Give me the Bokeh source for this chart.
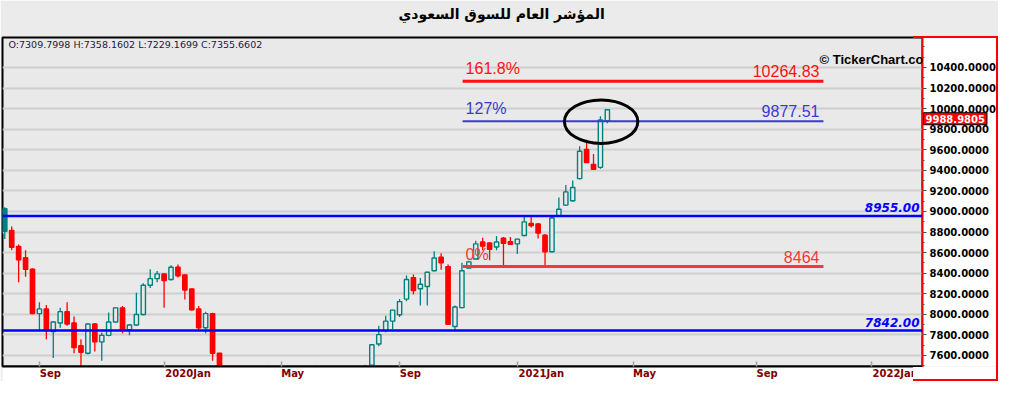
from bokeh.plotting import figure
from bokeh.models import (Range1d, FixedTicker, PrintfTickFormatter, Span, Label,
                          ColumnDataSource, InlineStyleSheet)
from bokeh.embed import file_html
from bokeh.resources import INLINE

# ---------------- data (weekly candles, index = week number) ----------------
weeks = list(range(88))
opens = [8807, 8816, 8660, 8550, 8439, 8007, 8053, 7833, 7916, 8026,
         7916, 7695, 7622, 7906, 7732, 7796, 7925, 8063, 7851, 7897,
         7998, 8283, 8347, 8393, 8338, 8458, 8384, 8246, 8053, 7870,
         8007, 7622, 7200, 6600, 6200, 6450, 6500, 6750, 6900, 6700,
         7000, 6850, 6950, 7050, 7200, 7350, 7250, 7150, 7280, 7309.7998,
         7355, 7420, 7450, 7505, 7711, 7842, 7934, 7996, 8148, 8357,
         8249, 8271, 8424, 8556, 8464, 7882, 8065, 8449, 8538, 8703,
         8694, 8654, 8740, 8706, 8685, 8767, 8883, 8878, 8770, 8608,
         8954, 9062, 9104, 9319, 9604, 9457, 9429, 9880]
highs = [9040, 8853, 8678, 8623, 8448, 8118, 8090, 7935, 8063, 8118,
         7980, 7759, 7910, 7916, 7824, 8017, 8070, 8081, 7906, 8210,
         8302, 8439, 8421, 8400, 8476, 8485, 8390, 8250, 8081, 8026,
         8015, 7625, 7250, 6700, 6600, 6600, 6800, 7000, 6950, 7050,
         7050, 7000, 7100, 7250, 7400, 7450, 7300, 7300, 7380, 7358.1602,
         7450, 7480, 7511, 7712, 7888, 7986, 8045, 8148, 8378, 8387,
         8354, 8415, 8614, 8593, 8485, 8087, 8501, 8520, 8715, 8745,
         8700, 8761, 8752, 8752, 8735, 8945, 8945, 8885, 8780, 8966,
         9135, 9257, 9301, 9634, 9696, 9558, 9925, 9990]
lows = [8733, 8623, 8311, 8366, 8000, 7851, 7759, 7576, 7870, 7888,
        7622, 7480, 7610, 7640, 7548, 7787, 7920, 7815, 7796, 7888,
        7990, 8256, 8311, 8063, 8329, 8357, 8145, 8035, 7842, 7815,
        7548, 7150, 6500, 5960, 6100, 6350, 6450, 6700, 6650, 6650,
        6800, 6750, 6900, 7000, 7150, 7200, 7100, 7120, 7200, 7229.1699,
        7330, 7380, 7400, 7470, 7689, 7826, 7858, 7973, 8127, 8194,
        8087, 8087, 8418, 8433, 7900, 7842, 8060, 8440, 8535, 8623,
        8525, 8623, 8464, 8675, 8586, 8760, 8844, 8736, 8461, 8600,
        8950, 9055, 9095, 9310, 9470, 9405, 9414, 9857]
closes = [9028, 8651, 8531, 8439, 8007, 8053, 7842, 7925, 8026, 7906,
          7677, 7631, 7906, 7732, 7796, 7925, 8063, 7851, 7897, 7998,
          8283, 8347, 8393, 8329, 8458, 8375, 8237, 8044, 7870, 8007,
          7622, 7200, 6600, 6200, 6450, 6500, 6750, 6900, 6700, 7000,
          6850, 6950, 7050, 7200, 7350, 7250, 7150, 7280, 7310, 7355.6602,
          7420, 7460, 7480, 7704, 7803, 7934, 8041, 8124, 8338, 8231,
          8292, 8409, 8547, 8501, 7904, 8072, 8424, 8510, 8685, 8663,
          8632, 8703, 8690, 8681, 8731, 8899, 8862, 8791, 8608, 8936,
          9021, 9190, 9233, 9585, 9475, 9411, 9889, 9988.9805]
prior_close = 9070.0

tick_weeks = [5, 23, 40, 57, 74, 90.8, 108.5, 125.1]
tick_labels = ["Sep", "2020Jan", "May", "Sep", "2021Jan", "May", "Sep", "2022Jan"]
price_ticks = list(range(7600, 10401, 200))
price_minor_ticks = list(range(7500, 10601, 100))

support_levels = [8955.00, 7842.00]
fib_names = ["0%", "127%", "161.8%"]
fib_values = [8464.0, 9877.51, 10264.83]
fib_value_texts = ["8464", "9877.51", "10264.83"]
fib_colors = ["#ee3a3a", "#3a3ad2", "#ff1010"]
fib_widths = [3, 2, 3]
fib_start, fib_end = 66.1, 118.2

ellipse_week, ellipse_value = 86.1, 9873.0
ellipse_w, ellipse_h = 10.6, 423.0

title_text = "المؤشر العام للسوق السعودي"
ohlc_text = "O:7309.7998  H:7358.1602  L:7229.1699  C:7355.6602"
watermark = "© TickerChart.com"
last_price = closes[-1]

x_start, x_end = -0.33, 132.5
y_start, y_end = 7493.0, 10691.0

BG = "#e9e9e9"
TEAL = "#008080"
RED = "#ff0000"

W, H = 998, 381
B_LEFT, B_RIGHT, B_TOP, B_BOTTOM = 2, 40, 20, 12
PANEL_W, PANEL_TOP, XAXIS_H = 85, 36, 14
frame_w = W - B_LEFT - PANEL_W
px_per_week = frame_w / (x_end - x_start)

# white price-axis panel corner and red frame around it (page decoration)
panel_css = InlineStyleSheet(css=f"""
:host {{ position: relative; }}
:host::before {{ content: ""; position: absolute; right: 0px; bottom: 0px;
  width: {PANEL_W}px; height: {XAXIS_H}px; background: #ffffff; z-index: 1;
  pointer-events: none; }}
:host::after {{ content: ""; position: absolute; right: 0px; bottom: 0px;
  width: {PANEL_W}px; top: {PANEL_TOP}px; border: 2px solid #ff0000; border-left: none;
  box-sizing: border-box; pointer-events: none; z-index: 2; }}
""")

# ---------------- figure ----------------
p = figure(width=W, height=H, output_backend="svg", toolbar_location=None,
           x_range=Range1d(x_start, x_end), y_range=Range1d(y_start, y_end),
           y_axis_location="right", min_border_left=B_LEFT, min_border_right=B_RIGHT,
           min_border_top=B_TOP, min_border_bottom=B_BOTTOM, stylesheets=[panel_css])
p.background_fill_color = BG
p.border_fill_color = "#ebebeb"
p.outline_line_color = "black"
p.outline_line_width = 2

p.title.text = title_text
p.title.text_font = "DejaVu Sans"
p.title.text_font_size = "14px"
p.title.text_font_style = "bold"
p.title.text_color = "black"
p.title.align = "left"
p.title.offset = 396
p.title.standoff = 7

p.xgrid.visible = False
p.ygrid.grid_line_color = "#cfcfcf"
p.ygrid.grid_line_width = 2

# x axis: labels start at their tick (left aligned), tick marks drawn as minor ticks
label_centers = [t + (len(l) * 6.5 / 2 + 1) / px_per_week for t, l in zip(tick_weeks, tick_labels)]
xa = p.xaxis[0]
xa.ticker = FixedTicker(ticks=label_centers, minor_ticks=tick_weeks)
xa.major_label_overrides = {c: l for c, l in zip(label_centers, tick_labels)}
xa.major_label_text_font = "DejaVu Sans"
xa.major_label_text_font_size = "10px"
xa.major_label_text_font_style = "bold"
xa.major_label_text_color = "#800000"
xa.major_label_standoff = 1
xa.major_tick_line_color = None
xa.major_tick_in = 0
xa.major_tick_out = 0
xa.minor_tick_in = 5
xa.minor_tick_out = 0
xa.minor_tick_line_color = "#a0a0a0"
xa.minor_tick_line_width = 1.5
xa.axis_line_color = "black"
xa.axis_line_width = 2
xa.background_fill_color = "white"

# y axis
ya = p.yaxis[0]
ya.ticker = FixedTicker(ticks=price_ticks, minor_ticks=price_minor_ticks)
ya.formatter = PrintfTickFormatter(format="%.4f")
ya.major_label_text_font = "DejaVu Sans"
ya.major_label_text_font_size = "10px"
ya.major_label_text_font_style = "bold"
ya.major_label_text_color = "black"
ya.major_tick_out = 4
ya.major_tick_in = 0
ya.minor_tick_out = 2
ya.minor_tick_in = 0
ya.major_tick_line_color = "#555555"
ya.minor_tick_line_color = "#555555"
ya.major_label_standoff = 3
ya.axis_line_color = "red"
ya.axis_line_width = 2
ya.background_fill_color = "white"

# candles
prev = [prior_close] + closes[:-1]
colors = [TEAL if c >= o else RED for o, c in zip(opens, closes)]
fills = [col if c < pc else BG for col, c, pc in zip(colors, closes, prev)]
src = ColumnDataSource(dict(
    x=weeks, h=highs, l=lows,
    top=[max(o, c) for o, c in zip(opens, closes)],
    bottom=[min(o, c) for o, c in zip(opens, closes)],
    color=colors, fill=fills))
p.segment(x0="x", y0="l", x1="x", y1="h", line_color="color", line_width=1.3, source=src)
p.vbar(x="x", width=0.62, top="top", bottom="bottom", fill_color="fill",
       line_color="color", line_width=1.4, source=src)

# support / resistance lines
for lvl in support_levels:
    p.add_layout(Span(location=lvl, dimension="width", line_color="#0000ff", line_width=2.5))
    p.add_layout(Label(x=x_end, y=lvl, x_offset=-3, y_offset=4, text=f"{lvl:.2f}",
                       text_align="right", text_baseline="bottom",
                       text_font="DejaVu Sans", text_font_size="12px",
                       text_font_style="bold italic", text_color="#0000ff"))

# fibonacci levels
p.segment(x0=[fib_start] * 3, y0=fib_values, x1=[fib_end] * 3, y1=fib_values,
          line_color=fib_colors, line_width=fib_widths)
for name, v, vt, col in zip(fib_names, fib_values, fib_value_texts, fib_colors):
    p.add_layout(Label(x=fib_start, y=v, x_offset=3, y_offset=4, text=name,
                       text_align="left", text_baseline="bottom",
                       text_font="Liberation Sans", text_font_size="16px", text_color=col))
    p.add_layout(Label(x=fib_end, y=v, x_offset=-4, y_offset=4, text=vt,
                       text_align="right", text_baseline="bottom",
                       text_font="Liberation Sans", text_font_size="16px", text_color=col))

# ellipse highlight
p.ellipse(x=[ellipse_week], y=[ellipse_value], width=ellipse_w, height=ellipse_h,
          fill_alpha=0, line_color="black", line_width=3)

# texts
p.add_layout(Label(x=x_start, y=y_end, x_offset=6, y_offset=-7, text=ohlc_text,
                   text_baseline="middle", text_font="DejaVu Sans",
                   text_font_size="9.5px", text_color="#1a1a3a"))
p.add_layout(Label(x=x_end, y=y_end, x_offset=-103, y_offset=-22, text=watermark,
                   text_baseline="alphabetic", text_font="Liberation Sans",
                   text_font_size="13px", text_font_style="bold", text_color="black"))

# last-price tag on the price axis (side-panel label, drawn unclipped)
p.add_layout(Label(x=x_end, y=last_price, x_offset=1, y_offset=-3, text=f"{last_price:.4f}",
                   text_baseline="top", text_align="left",
                   text_font="DejaVu Sans", text_font_size="10px",
                   text_font_style="bold", text_color="white",
                   background_fill_color="red", border_line_color="black", padding=2), "above")

open("out.html", "w").write(file_html(p, INLINE))
